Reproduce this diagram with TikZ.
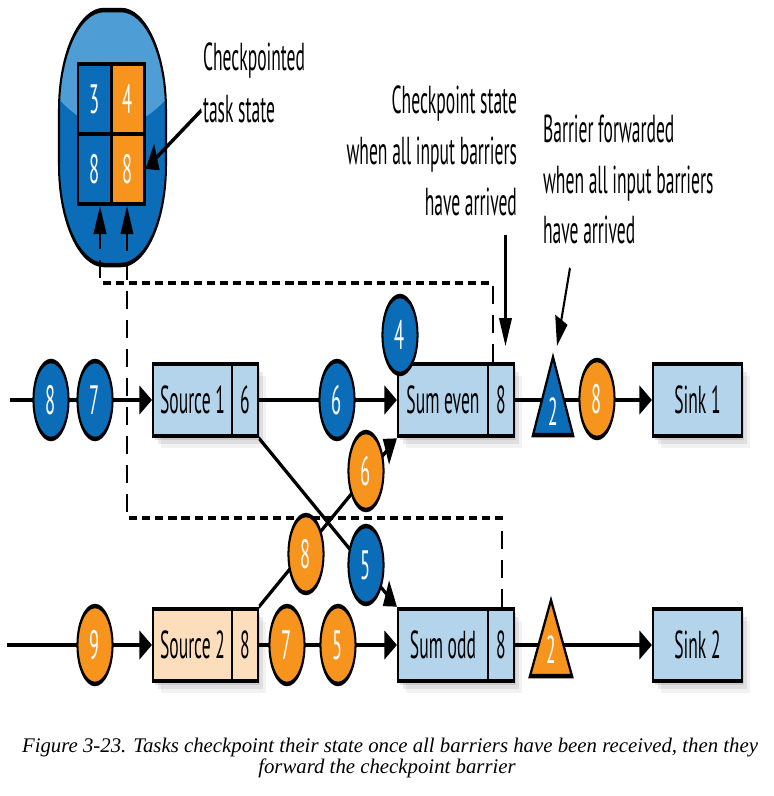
\documentclass[tikz,border=0pt]{standalone}
\usepackage{fontspec}
\setmainfont{PT Sans}
\newfontfamily\capfont{Liberation Serif}
\usetikzlibrary{arrows.meta,shadows}
\definecolor{cblue}{RGB}{11,109,183}
\definecolor{chl}{RGB}{78,157,212}
\definecolor{corange}{RGB}{247,148,29}
\definecolor{cbox}{RGB}{180,212,236}
\definecolor{cpeach}{RGB}{252,222,188}
\tikzset{
  lw/.style={line width=4.5pt},
  flow/.style={lw,-{Triangle[length=28pt,width=28pt]}},
  dsh/.style={lw,dash pattern=on 18pt off 11pt},
  bead/.style={circle,draw,lw,minimum size=78pt,inner sep=0pt,text=white,font=\fontsize{41}{44}\selectfont},
  bb/.style={bead,fill=cblue},
  bo/.style={bead,fill=corange},
  shd/.style={drop shadow={opacity=.22,shadow xshift=5pt,shadow yshift=-4pt},
              drop shadow={opacity=.16,shadow xshift=11pt,shadow yshift=-8pt},
              drop shadow={opacity=.10,shadow xshift=17pt,shadow yshift=-12pt}},
  task/.style={draw,lw,inner sep=0pt,minimum height=72pt,fill=cbox,shd},
  txt/.style={inner sep=0pt,font=\fontsize{39}{44}\selectfont},
  cell/.style={draw,lw,inner sep=0pt,minimum width=73.3pt,minimum height=70pt,text=white,font=\fontsize{41}{44}\selectfont},
  capt/.style={inner sep=0pt,anchor=base,font=\capfont\itshape\fontsize{20.8}{23}\selectfont},
}
\begin{document}
\begin{tikzpicture}[x=1pt,y=-1pt]
\useasboundingbox (0,0) rectangle (774,796);
\fill[white] (0,0) rectangle (774,796);
\begin{scope}[transform canvas={xscale=0.45},x=2.2222pt]
  % checkpoint storage
  \begin{scope}
    \clip[rounded corners=100pt] (59,10) rectangle (166,265);
    \fill[cblue] (59,10) rectangle (166,265);
    \fill[chl] (112.5,-140) circle (267pt);
  \end{scope}
  \draw[lw,rounded corners=100pt] (59,10) rectangle (166,265);
  \node[cell,fill=cblue] (g1) at (94.5,99) {3};
  \node[cell,fill=corange] (g2) at (128,99) {4};
  \node[cell,fill=cblue] (g3) at (94.5,169) {8};
  \node[cell,fill=corange] (g4) at (128,169) {8};
  % tasks
  \node[task,minimum width=233.3pt] (s1) at (205.5,400) {};
  \node[task,minimum width=233.3pt,fill=cpeach] (s2) at (205.5,645) {};
  \node[task,minimum width=257.8pt] (se) at (456,400) {};
  \node[task,minimum width=257.8pt] (so) at (456,645) {};
  \node[task,minimum width=197.8pt] (k1) at (697.5,400) {};
  \node[task,minimum width=197.8pt] (k2) at (697.5,645) {};
  \draw[lw] (232,364) -- (232,436);
  \draw[lw] (232,609) -- (232,681);
  \draw[lw] (488,364) -- (488,436);
  \draw[lw] (488,609) -- (488,681);
  \node[txt] (s1l) at (192.5,400) {Source 1};
  \node[txt] (s1c) at (245,400) {6};
  \node[txt] (s2l) at (192.5,645) {Source 2};
  \node[txt] (s2c) at (245,645) {8};
  \node[txt] (sel) at (443,400) {Sum even};
  \node[txt] (sec) at (501,400) {8};
  \node[txt] (sol) at (443,645) {Sum odd};
  \node[txt] (soc) at (501,645) {8};
  \node[txt] (k1l) at (697.5,400) {Sink 1};
  \node[txt] (k2l) at (697.5,645) {Sink 2};
  % dashed checkpoint paths
  \coordinate (d1) at (493,283);
  \coordinate (t1) at (100,206);
  \draw[dsh,-{Triangle[length=28pt,width=28pt]}] (se.north -| d1) -- (d1) -- (d1 -| t1) -- (t1);
  \coordinate (d2) at (502,518);
  \coordinate (t2) at (127,206);
  \draw[dsh,-{Triangle[length=28pt,width=28pt]}] (so.north -| d2) -- (d2) -- (d2 -| t2) -- (t2);
  % flows
  \coordinate (in1) at (10,400);
  \coordinate (in2) at (7,645);
  \draw[flow] (in1) -- (s1);
  \draw[flow] (s1) -- (se);
  \draw[flow] (se) -- (k1);
  \draw[flow] (in2) -- (s2);
  \draw[flow] (s2) -- (so);
  \draw[flow] (so) -- (k2);
  \draw[flow] (s1.south east) -- (so.north west);
  \draw[flow] (s2.north east) -- (se.south west);
  % records
  \node[bb] (r1) at (51,400) {8};
  \node[bb] (r2) at (95,400) {7};
  \node[bb] (r3) at (337,400) {6};
  \node[bb] (r4) at (400,335) {4};
  \node[bo] (r5) at (597,399) {8};
  \node[bo] (r6) at (95,645) {9};
  \node[bo] (r7) at (287,645) {7};
  \node[bo] (r8) at (338,645) {5};
  \node[bo] (r9) at (306,554) {8};
  \node[bo] (r10) at (366,471) {6};
  \node[bb] (r11) at (366,565) {5};
  % barriers
  \path[draw,fill=cblue,lw] (553,357) -- (573,435) -- (533,435) -- cycle;
  \node[txt,text=white,anchor=base] (tb1) at (553,425) {2};
  \path[draw,fill=corange,lw] (551,600) -- (572,676) -- (530,676) -- cycle;
  \node[txt,text=white,anchor=base] (tb2) at (551,663) {2};
  % annotations
  \node[txt,anchor=base west] (n1) at (203,70) {Checkpointed};
  \node[txt,anchor=base west] (n2) at (203,122) {task state};
  \draw[flow,shorten <=4pt] (n2.west) -- (g4.east);
  \node[txt,anchor=base east] (m1) at (517,113) {Checkpoint state};
  \node[txt,anchor=base east] (m2) at (517,164) {when all input barriers};
  \node[txt,anchor=base east] (m3) at (517,215) {have arrived};
  \node[txt,anchor=base west] (f1) at (543,142) {Barrier forwarded};
  \node[txt,anchor=base west] (f2) at (543,193) {when all input barriers};
  \node[txt,anchor=base west] (f3) at (543,243) {have arrived};
  \coordinate (p1) at (505.5,235);
  \coordinate (p2) at (505.5,346);
  \draw[flow] (p1) -- (p2);
  \coordinate (q1) at (570,268);
  \coordinate (q2) at (557,346);
  \draw[flow] (q1) -- (q2);
\end{scope}
\node[capt] (cap1) at (390,752) {Figure 3-23. Tasks checkpoint their state once all barriers have been received, then they};
\node[capt] (cap2) at (387,773) {forward the checkpoint barrier};
\end{tikzpicture}
\end{document}
